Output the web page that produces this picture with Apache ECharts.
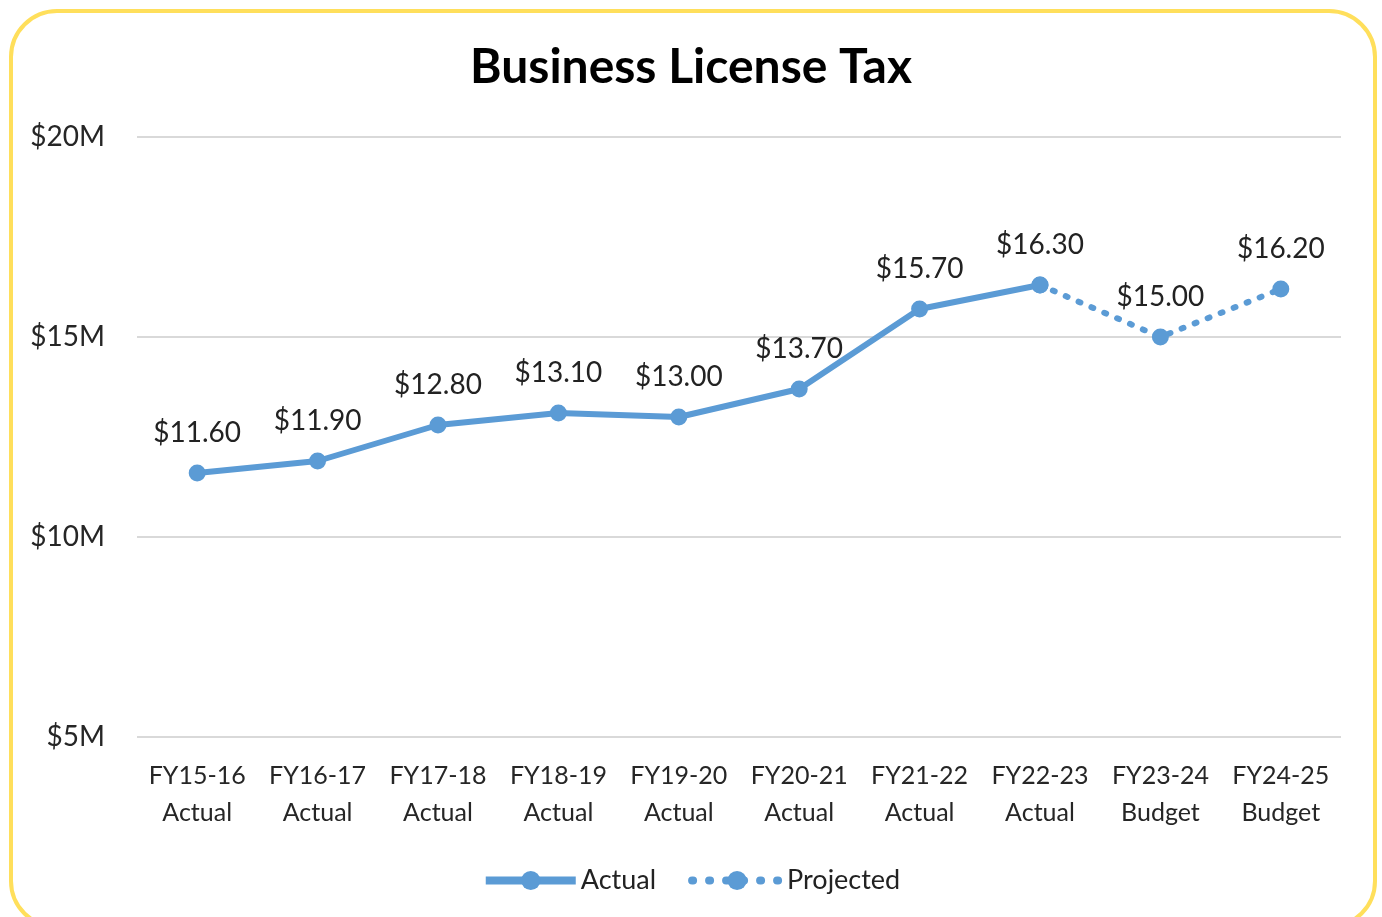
<!DOCTYPE html>
<html>
<head>
<meta charset="utf-8">
<script src="https://cdn.jsdelivr.net/npm/echarts@6/dist/echarts.min.js"></script>
<style>
html,body{margin:0;padding:0;background:#fff;}
#frame{position:absolute;left:9px;top:9px;width:1368px;height:920px;border:4px solid #FFDF5B;border-radius:48px;box-sizing:border-box;}
#chart{position:absolute;left:0;top:0;width:1382px;height:917px;}
</style>
</head>
<body>
<div id="frame"></div>
<div id="chart"></div>
<script>
const categories = ['FY15-16\nActual','FY16-17\nActual','FY17-18\nActual','FY18-19\nActual','FY19-20\nActual','FY20-21\nActual','FY21-22\nActual','FY22-23\nActual','FY23-24\nBudget','FY24-25\nBudget'];
const actualValues = [11.6, 11.9, 12.8, 13.1, 13.0, 13.7, 15.7, 16.3, null, null];
const projectedValues = [null, null, null, null, null, null, null, 16.3, 15.0, 16.2];
const yTicks = [5, 10, 15, 20];

const FONT = 'Lato, "Open Sans", sans-serif';
const BLUE = '#5B9BD5';
const chart = echarts.init(document.getElementById('chart'));
chart.setOption({
  animation: false,
  title: {
    text: 'Business License Tax',
    left: 'center', top: 39,
    textStyle: {fontFamily: FONT, fontSize: 48, fontWeight: 'bold', color: '#000'}
  },
  grid: {left: 137, right: 41, top: 137, bottom: 180},
  legend: {
    bottom: 18, left: 'center',
    itemWidth: 90, itemHeight: 24, itemGap: 32,
    textStyle: {fontFamily: FONT, fontSize: 27, color: '#222'},
    data: [
      {name: 'Actual', lineStyle: {width: 8}},
      {name: 'Projected', lineStyle: {width: 8, type: [1, 16], cap: 'round'}}
    ]
  },
  xAxis: {
    type: 'category',
    data: categories,
    boundaryGap: true,
    axisLine: {show: false},
    axisTick: {show: false},
    axisLabel: {fontFamily: FONT, fontSize: 25, color: '#262626', margin: 20, lineHeight: 37, interval: 0}
  },
  yAxis: {
    type: 'value',
    min: yTicks[0], max: yTicks[yTicks.length - 1], interval: 5,
    axisLabel: {fontFamily: FONT, fontSize: 28, color: '#262626', margin: 32, formatter: v => '$' + v + 'M'},
    splitLine: {lineStyle: {color: '#D9D9D9', width: 2}},
    axisLine: {show: false},
    axisTick: {show: false}
  },
  series: [
    {
      name: 'Actual', type: 'line', data: actualValues,
      symbol: 'circle', symbolSize: 17,
      lineStyle: {color: BLUE, width: 6},
      itemStyle: {color: BLUE},
      label: {show: true, position: 'top', distance: 18, fontFamily: FONT, fontSize: 28, color: '#222',
        formatter: p => '$' + p.value.toFixed(2)},
      z: 3
    },
    {
      name: 'Projected', type: 'line', data: projectedValues,
      symbol: 'circle', symbolSize: 17,
      lineStyle: {color: BLUE, width: 6, type: [2, 12], cap: 'round'},
      itemStyle: {color: BLUE},
      label: {show: true, position: 'top', distance: 18, fontFamily: FONT, fontSize: 28, color: '#222',
        formatter: p => p.dataIndex === 7 ? '' : '$' + p.value.toFixed(2)},
      z: 2
    }
  ]
});
</script>
</body>
</html>
